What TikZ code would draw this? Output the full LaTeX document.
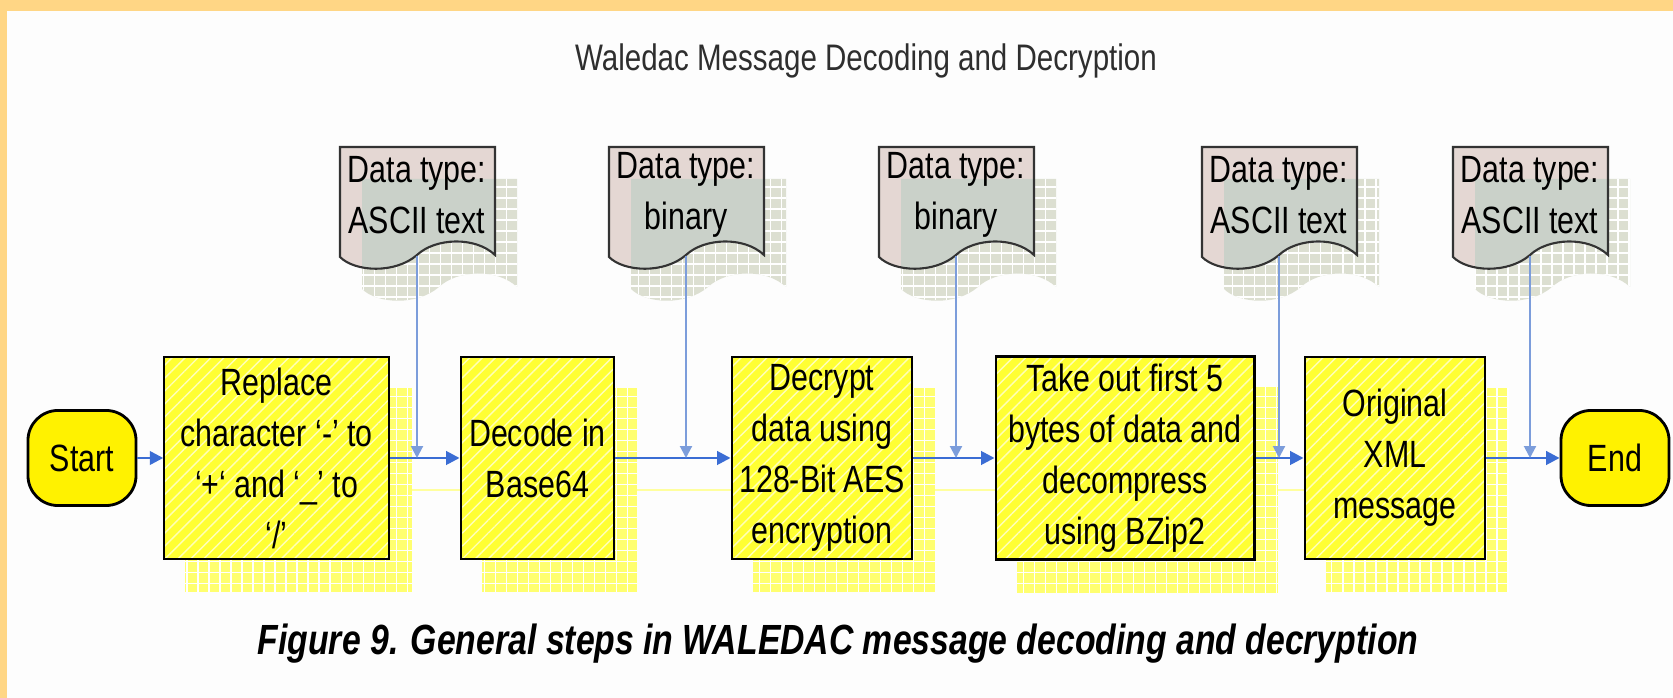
\documentclass[tikz,border=0pt]{standalone}
\usepackage{fontspec}
\setmainfont{Liberation Sans}
\newfontfamily\slimsans[FakeStretch=0.8]{Liberation Sans}
\usetikzlibrary{arrows.meta,patterns.meta,positioning}
\pgfdeclarelayer{shade}
\pgfsetlayers{shade,main}

\definecolor{frameorange}{HTML}{FFD685}
\definecolor{paper}{HTML}{FDFDFD}
\definecolor{boxyellow}{HTML}{FFFF33}
\definecolor{boxshade}{HTML}{FFFF70}
\definecolor{hatchwhite}{HTML}{FFFFB8}
\definecolor{docpink}{HTML}{E4D7D3}
\definecolor{docgrey}{HTML}{CAD1C9}
\definecolor{docshade}{HTML}{DCDFD1}
\definecolor{flowblue}{HTML}{3B6DD4}
\definecolor{feedblue}{HTML}{7C9DDB}
\definecolor{flowshade}{HTML}{FFFF9E}
\definecolor{titlegrey}{HTML}{2E2E2E}

\tikzset{
  boxfont/.style={font=\slimsans\fontsize{10.8}{14.5}\selectfont},
  stepbox/.style={
    boxfont, draw=black, line width=0.8pt, align=center,
    minimum height=2.02cm, inner sep=2pt,
    preaction={fill=boxyellow},
    pattern={Lines[angle=45,distance=2.6pt,line width=0.4pt]},
    pattern color=hatchwhite
  },
  terminal/.style={
    boxfont, draw=black, line width=0.8pt, fill=yellow,
    rounded corners=0.3cm, minimum width=1.08cm, minimum height=0.95cm
  },
  doctext/.style={boxfont, align=center, inner sep=0pt,
    minimum width=1.55cm, minimum height=1.2cm},
  docline/.style={draw=black!80, line width=0.6pt},
  shadegrid/.style={white, line width=0.4pt, step=0.11cm},
  flow/.style={flowblue, line width=0.75pt, -{Triangle[length=3.8pt,width=3.8pt]}},
  feed/.style={feedblue, line width=0.6pt, -{Triangle[length=3.4pt,width=3.4pt]}},
  flowshadow/.style={flowshade, line width=0.7pt}
}

% wavy document outline round a centre x
\newcommand\docpath[1]{(#1-77,147) -- (#1+78,147) -- (#1+78,255)
  .. controls (#1+58,236) and (#1+18,238) .. (#1,255)
  .. controls (#1-22,274) and (#1-62,272) .. (#1-77,257) -- cycle}

\begin{document}
\begin{tikzpicture}[x=0.01cm,y=-0.01cm]
  \useasboundingbox (0,0) rectangle (1673,698);
  %
  \node[font=\slimsans\fontsize{10.5}{12}\selectfont, text=titlegrey] (title) at (866,61)
    {Waledac Message Decoding and Decryption};
  %
  \node[terminal] (start) at (82,458) {Start};
  \node[stepbox, minimum width=2.25cm] (b1) at (276.5,458)
    {Replace\\character ‘-’ to\\‘+‘ and ‘\_’ to\\‘/’};
  \node[stepbox, minimum width=1.53cm] (b2) at (537.5,458) {Decode in\\Base64};
  \node[stepbox, minimum width=1.80cm] (b3) at (822,458)
    {Decrypt\\data using\\128-Bit AES\\encryption};
  \node[stepbox, minimum width=2.58cm] (b4) at (1125,458)
    {Take out first 5\\bytes of data and\\decompress\\using BZip2};
  \node[stepbox, minimum width=1.80cm] (b5) at (1395,458) {Original\\XML\\message};
  \node[terminal] (end) at (1615,458) {End};
  %
  \draw[flow] (start.east) to (b1.west);
  \draw[flow] (b1.east) to (b2.west);
  \draw[flow] (b2.east) to (b3.west);
  \draw[flow] (b3.east) to (b4.west);
  \draw[flow] (b4.east) to (b5.west);
  \draw[flow] (b5.east) to (end.west);
  %
  \foreach \c/\n/\t in {417/d1/ASCII text, 686/d2/binary, 956/d3/binary,
                        1279/d4/ASCII text, 1530/d5/ASCII text} {
    \fill[docpink] \docpath{\c};
    \begin{scope}
      \clip \docpath{\c};
      \fill[docgrey, shift={(22,32)}] \docpath{\c};
    \end{scope}
    \draw[docline] \docpath{\c};
    \node[doctext] (\n) at (\c,195) {Data type:\\\t};
    \draw[feed] (\n.south) to (\n.south |- start.east);
  }
  %
  \node[font=\slimsans\bfseries\itshape\fontsize{12}{14}\selectfont] (caption) at (838,644)
    {Figure 9. General steps in WALEDAC message decoding and decryption};
  %
  \begin{pgfonlayer}{shade}
    \fill[frameorange] (0,0) rectangle (1673,698);
    \fill[paper] (7,11) rectangle (1673,698);
    \foreach \n in {b1,b2,b3,b4,b5} {
      \fill[boxshade] ([shift={(22,32)}]\n.north west) rectangle ([shift={(22,32)}]\n.south east);
      \draw[shadegrid] ([shift={(22,32)}]\n.north west) grid ([shift={(22,32)}]\n.south east);
    }
    \foreach \a/\b in {b1/b2,b2/b3,b3/b4,b4/b5}
      \draw[flowshadow] ([shift={(22,32)}]\a.east) to ([shift={(22,32)}]\b.west);
    \foreach \c in {417,686,956,1279,1530} {
      \fill[docshade, shift={(22,32)}] \docpath{\c};
      \begin{scope}
        \clip[shift={(22,32)}] \docpath{\c};
        \draw[shadegrid] (\c-60,170) grid (\c+110,300);
      \end{scope}
    }
  \end{pgfonlayer}
\end{tikzpicture}
\end{document}
